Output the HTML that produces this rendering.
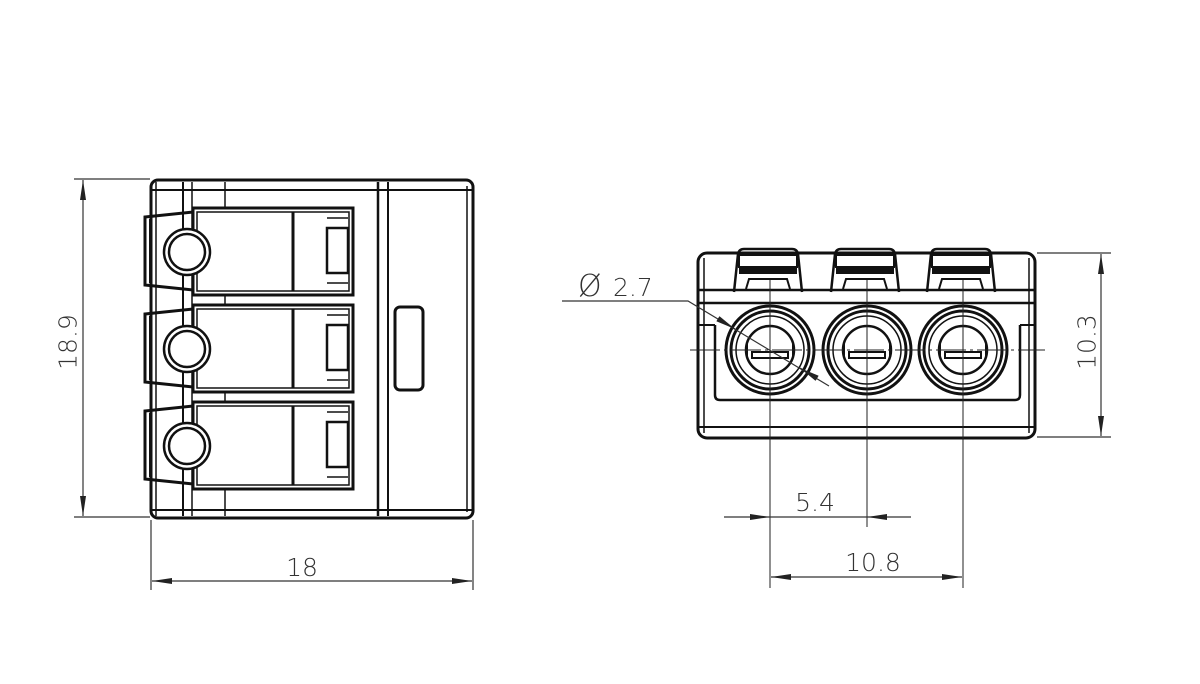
<!DOCTYPE html>
<html><head><meta charset="utf-8"><style>
html,body{margin:0;padding:0;background:#fff;}
svg{display:block;}
text{font-family:"DejaVu Sans","Liberation Sans",sans-serif;fill:#333;font-size:25px;font-weight:300;}
</style></head><body>
<svg width="1200" height="684" viewBox="0 0 1200 684" xmlns="http://www.w3.org/2000/svg">
<defs>
<marker id="ar" viewBox="0 0 20 8" refX="20" refY="4" markerWidth="20" markerHeight="8" markerUnits="userSpaceOnUse" orient="auto-start-reverse">
<path d="M0,1 L20,4 L0,7 Z" fill="#222"/></marker>
<g id="lever">
<path d="M145,217 L193,212 L193,290 L145,285 Z" fill="none" stroke="#111" stroke-width="3"/>
<path d="M150,219 L150,283" stroke="#111" stroke-width="2"/>
<rect x="193" y="208" width="160" height="87" fill="none" stroke="#111" stroke-width="3"/>
<rect x="197" y="212" width="152" height="79" fill="none" stroke="#111" stroke-width="1.5"/>
<line x1="293" y1="212" x2="293" y2="291" stroke="#111" stroke-width="3"/>
<rect x="327" y="228" width="21" height="45" fill="none" stroke="#111" stroke-width="2.5"/>
<line x1="327" y1="218" x2="348" y2="218" stroke="#111" stroke-width="1.5"/>
<line x1="327" y1="283" x2="348" y2="283" stroke="#111" stroke-width="1.5"/>
<circle cx="187" cy="252" r="23" fill="#fff" stroke="#111" stroke-width="2.5"/>
<circle cx="187" cy="252" r="18" fill="none" stroke="#111" stroke-width="2.5"/>
</g>
<g id="hole">
<circle r="44" fill="#fff" stroke="#111" stroke-width="3"/>
<circle r="39" fill="none" stroke="#111" stroke-width="3"/>
<circle r="34" fill="none" stroke="#111" stroke-width="1.5"/>
<circle r="24" fill="none" stroke="#111" stroke-width="2.5"/>
<path d="M-22,-10 A24,24 0 0 0 -22,10 Z" fill="#111"/>
<path d="M22,-10 A24,24 0 0 1 22,10 Z" fill="#111"/>
<rect x="-18" y="2" width="36" height="6" fill="none" stroke="#111" stroke-width="2"/>
</g>
<g id="tab">
<path d="M0,40 L4,2 Q5,-3 10,-3 L58,-3 Q63,-3 64,2 L68,40" fill="none" stroke="#111" stroke-width="2.5"/>
<rect x="5" y="3" width="58" height="12" fill="none" stroke="#111" stroke-width="2"/>
<rect x="5" y="15" width="58" height="7" fill="#111"/>
<path d="M12,37 L15,27 L53,27 L56,37" fill="none" stroke="#111" stroke-width="2"/>
</g>
</defs>

<!-- LEFT VIEW -->
<g fill="none" stroke="#111">
<rect x="151" y="180" width="322" height="338" rx="7" stroke-width="3"/>
<line x1="151" y1="190" x2="473" y2="190" stroke-width="2"/>
<line x1="151" y1="510" x2="473" y2="510" stroke-width="2"/>
<line x1="156" y1="182" x2="156" y2="516" stroke-width="1.5"/>
<line x1="183" y1="182" x2="183" y2="516" stroke-width="2"/>
<line x1="192" y1="182" x2="192" y2="516" stroke-width="1.5"/>
<line x1="225" y1="182" x2="225" y2="208" stroke-width="1.5"/>
<line x1="225" y1="295" x2="225" y2="305" stroke-width="1.5"/>
<line x1="225" y1="392" x2="225" y2="402" stroke-width="1.5"/>
<line x1="225" y1="488" x2="225" y2="516" stroke-width="1.5"/>
<line x1="378" y1="182" x2="378" y2="516" stroke-width="2.5"/>
<line x1="388" y1="182" x2="388" y2="516" stroke-width="2"/>
<line x1="467" y1="186" x2="467" y2="512" stroke-width="1.5"/>
<rect x="395" y="307" width="28" height="83" rx="5" stroke-width="3"/>
</g>
<use href="#lever"/>
<use href="#lever" transform="translate(0,97)"/>
<use href="#lever" transform="translate(0,194)"/>

<!-- dims left -->
<g stroke="#333" stroke-width="1.2" fill="none">
<line x1="74" y1="179" x2="150" y2="179"/>
<line x1="74" y1="517" x2="150" y2="517"/>
<line x1="83" y1="180" x2="83" y2="516" marker-start="url(#ar)" marker-end="url(#ar)"/>
<line x1="151" y1="520" x2="151" y2="590"/>
<line x1="473" y1="520" x2="473" y2="590"/>
<line x1="152" y1="581" x2="472" y2="581" marker-start="url(#ar)" marker-end="url(#ar)"/>
</g>
<text x="68" y="342" text-anchor="middle" dominant-baseline="central" transform="rotate(-90 68 342)">18.9</text>
<text x="302" y="576" text-anchor="middle">18</text>

<!-- RIGHT VIEW -->
<g fill="none" stroke="#111">
<rect x="698" y="253" width="337" height="185" rx="9" stroke-width="3"/>
<line x1="704" y1="258" x2="704" y2="433" stroke-width="1.5"/>
<line x1="1029" y1="258" x2="1029" y2="433" stroke-width="1.5"/>
<line x1="698" y1="290" x2="1035" y2="290" stroke-width="2.5"/>
<line x1="698" y1="303" x2="1035" y2="303" stroke-width="2.5"/>
<line x1="698" y1="427" x2="1035" y2="427" stroke-width="2"/>
<path d="M715,325 L715,395 Q715,400 720,400 L1015,400 Q1020,400 1020,395 L1020,325" stroke-width="2.5"/>
<line x1="698" y1="325" x2="715" y2="325" stroke-width="2"/>
<line x1="1020" y1="325" x2="1035" y2="325" stroke-width="2"/>
</g>
<use href="#tab" transform="translate(734,252)"/>
<use href="#tab" transform="translate(831,252)"/>
<use href="#tab" transform="translate(927,252)"/>
<use href="#hole" transform="translate(770,350)"/>
<use href="#hole" transform="translate(867,350)"/>
<use href="#hole" transform="translate(963,350)"/>
<!-- center lines -->
<g stroke="#222" stroke-width="1" fill="none">
<line x1="690" y1="350" x2="1045" y2="350" stroke-dasharray="30 4 3 4"/>
<line x1="770" y1="280" x2="770" y2="588"/>
<line x1="867" y1="280" x2="867" y2="527"/>
<line x1="963" y1="280" x2="963" y2="588"/>
</g>
<!-- leader -->
<g stroke="#333" stroke-width="1.2" fill="none">
<polyline points="562,301 688,301 829,386"/>
<line x1="720" y1="320" x2="735" y2="329" marker-end="url(#ar)"/>
<line x1="815" y1="377" x2="800" y2="368" marker-end="url(#ar)"/>
</g>
<text x="578" y="296" style="font-size:30px">Ø</text>
<text x="613" y="296">2.7</text>
<!-- dims right -->
<g stroke="#333" stroke-width="1.2" fill="none">
<line x1="1037" y1="253" x2="1111" y2="253"/>
<line x1="1037" y1="437" x2="1111" y2="437"/>
<line x1="1101" y1="254" x2="1101" y2="436" marker-start="url(#ar)" marker-end="url(#ar)"/>
<line x1="724" y1="517" x2="770" y2="517" marker-end="url(#ar)"/>
<line x1="770" y1="517" x2="867" y2="517"/>
<line x1="911" y1="517" x2="867" y2="517" marker-end="url(#ar)"/>
<line x1="771" y1="577" x2="962" y2="577" marker-start="url(#ar)" marker-end="url(#ar)"/>
</g>
<text x="1087" y="342" text-anchor="middle" dominant-baseline="central" transform="rotate(-90 1087 342)">10.3</text>
<text x="815" y="511" text-anchor="middle">5.4</text>
<text x="873" y="571" text-anchor="middle">10.8</text>
</svg>
</body></html>
